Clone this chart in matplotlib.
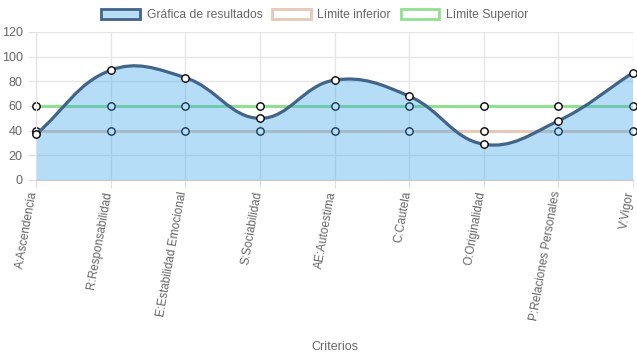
import matplotlib.pyplot as plt
import matplotlib.transforms as mtransforms
import numpy as np
from matplotlib.path import Path
from matplotlib.patches import PathPatch, Patch

# Datos
criterios = ["A:Ascendencia", "R:Responsabilidad", "E:Estabilidad Emocional",
             "S:Sociabilidad", "AE:Autoestima", "C:Cautela", "O:Originalidad",
             "P:Relaciones Personales", "V:Vigor"]
resultados = [37, 89, 83, 50, 81, 68, 29, 48, 87]
limite_inferior = [40, 40, 40, 40, 40, 40, 40, 40, 40]
limite_superior = [60, 60, 60, 60, 60, 60, 60, 60, 60]

plt.rcParams['font.family'] = ['Liberation Sans', 'DejaVu Sans']

fig = plt.figure(figsize=(6.37, 3.59), dpi=100)
ax = fig.add_axes([36 / 637, 1 - 180 / 359, (633 - 36) / 637, (180 - 32) / 359])
x = np.arange(len(criterios))
ax.set_xlim(0, len(criterios) - 1)
ax.set_ylim(0, 120)


# Curva tipo Chart.js (tension 0.4) en coordenadas de pantalla
def spline_path(xs, ys, tension=0.4, baseline=None):
    pts = ax.transData.transform(np.column_stack([xs, ys]))
    n = len(pts)
    cp_prev, cp_next = [], []
    for i in range(n):
        p0 = pts[max(i - 1, 0)]
        p1 = pts[i]
        p2 = pts[min(i + 1, n - 1)]
        d01 = np.hypot(*(p1 - p0))
        d12 = np.hypot(*(p2 - p1))
        s01 = d01 / (d01 + d12)
        s12 = d12 / (d01 + d12)
        cp_prev.append(p1 - tension * s01 * (p2 - p0))
        cp_next.append(p1 + tension * s12 * (p2 - p0))
    verts = [pts[0]]
    codes = [Path.MOVETO]
    for i in range(n - 1):
        verts += [cp_next[i], cp_prev[i + 1], pts[i + 1]]
        codes += [Path.CURVE4] * 3
    verts = ax.transData.inverted().transform(np.array(verts))
    if baseline is not None:
        verts = np.vstack([[xs[0], baseline], verts, [xs[-1], baseline], [xs[0], baseline]])
        codes = [Path.MOVETO, Path.LINETO] + codes[1:] + [Path.LINETO, Path.CLOSEPOLY]
    return Path(verts, codes)


# Grilla
ax.set_xticks(x)
ax.set_yticks(np.arange(0, 121, 20))
ax.grid(True, color='#e6e6e6', linewidth=1, zorder=0)
ax.set_axisbelow(True)
for s in ['top', 'right']:
    ax.spines[s].set_visible(False)
ax.spines['left'].set_color('#e0e0e0')
ax.spines['bottom'].set_color('#c8c8c8')

# Limites
mk = dict(marker='o', markersize=5.3, markerfacecolor='white', markeredgecolor='black',
          markeredgewidth=1, clip_on=False)
ax.plot(x, limite_inferior, color='#e6c8b8', linewidth=2.2, zorder=1, **mk)
ax.plot(x, limite_superior, color='#90e090', linewidth=2.2, zorder=1, **mk)

# Resultados
fill_path = spline_path(x, resultados, baseline=0)
ax.add_patch(PathPatch(fill_path, facecolor=(54 / 255, 162 / 255, 235 / 255, 0.36),
                       edgecolor='none', zorder=2))
line_path = spline_path(x, resultados)
ax.add_patch(PathPatch(line_path, fill=False, edgecolor='#416488', linewidth=2.3,
                       zorder=3, clip_on=False))
ax.plot(x, resultados, linestyle='none', zorder=4, **mk)

# Ejes
ax.tick_params(axis='both', colors='#e0e0e0', labelcolor='#666666',
               labelsize=9, length=6)
ax.tick_params(axis='x', pad=3, labelsize=8.5)
ax.set_xticklabels(criterios, rotation=80, ha='right', va='bottom',
                   rotation_mode='anchor')
shift = mtransforms.ScaledTranslation(4 / 100, 0, fig.dpi_scale_trans)
for lbl in ax.get_xticklabels():
    lbl.set_transform(lbl.get_transform() + shift)
ax.set_xlabel('Criterios', color='#666666', fontsize=9)
ax.xaxis.set_label_coords(0.5, -1.09)

# Leyenda
handles = [
    Patch(facecolor='#b9def8', edgecolor='#416488', linewidth=2, label='Gráfica de resultados'),
    Patch(facecolor='white', edgecolor='#e6c8b8', linewidth=2, label='Límite inferior'),
    Patch(facecolor='white', edgecolor='#90e090', linewidth=2, label='Límite Superior'),
]
leg = fig.legend(handles=handles, loc='upper center', bbox_to_anchor=(0.494, 1.0), ncol=3,
                 frameon=False, handlelength=3.2, handleheight=0.9, columnspacing=0.8,
                 handletextpad=0.55, fontsize=8.7, borderaxespad=0.35)
for t in leg.get_texts():
    t.set_color('#666666')

fig.savefig('out.png', dpi=100)
